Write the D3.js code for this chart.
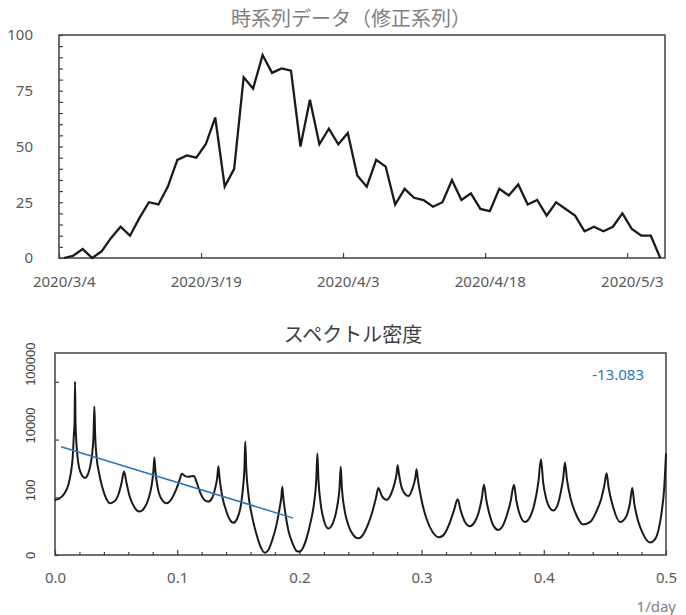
<!DOCTYPE html>
<meta charset="utf-8">
<style>
    body { margin: 0; background: #fff; }
    .axis text { font: 15px "Noto Sans", sans-serif; fill: #595959; }
    .axis line { stroke: #404040; stroke-width: 1.2; }
    .frame { fill: none; stroke: #404040; stroke-width: 1.5; }
    .title { font-family: "Noto Sans CJK JP", sans-serif; font-size: 20px; text-anchor: middle; }
</style>
<svg id="chart" width="686" height="615"></svg>
<script src="https://cdn.jsdelivr.net/npm/d3@7"></script>
<script>

    // time series (corrected), one value per day from 2020/3/4
    var seriesStart = "2020-03-04";
    var seriesValues = [0, 1, 4, 0, 3, 9, 14, 10, 18, 25, 24, 32, 44, 46, 45, 51, 63, 32, 40, 81,
        76, 91, 83, 85, 84, 50, 71, 51, 58, 51, 56, 37, 32, 44, 41, 24, 31, 27, 26, 23,
        25, 35, 26, 29, 22, 21, 31, 28, 33, 24, 26, 19, 25, 22, 19, 12, 14, 12, 14, 20,
        13, 10, 10, 0];
    var dateTicks = ["2020-03-04", "2020-03-19", "2020-04-03", "2020-04-18", "2020-05-03"];
    var valueTicks = [0, 25, 50, 75, 100];

    // spectral density
    var spectrumFreq = [0.000, 0.004, 0.008, 0.011, 0.013, 0.0145, 0.0155, 0.016, 0.0164, 0.0168,
        0.0175, 0.019, 0.021, 0.0245, 0.027, 0.029, 0.0305, 0.0315, 0.0322, 0.0329,
        0.034, 0.036, 0.039, 0.042, 0.045, 0.049, 0.052, 0.0545, 0.0565, 0.0585,
        0.061, 0.065, 0.069, 0.073, 0.0765, 0.079, 0.0805, 0.0813, 0.0822, 0.084,
        0.087, 0.0914, 0.095, 0.099, 0.102, 0.1037, 0.1065, 0.109, 0.1115, 0.1137,
        0.116, 0.119, 0.1225, 0.1255, 0.1285, 0.131, 0.1328, 0.1337, 0.1347, 0.137,
        0.140, 0.143, 0.146, 0.149, 0.152, 0.154, 0.155, 0.1557, 0.1565, 0.158,
        0.161, 0.165, 0.1685, 0.1718, 0.175, 0.178, 0.181, 0.1835, 0.1852, 0.186,
        0.1868, 0.1885, 0.191, 0.1945, 0.1975, 0.200, 0.203, 0.206, 0.209, 0.212,
        0.2138, 0.2147, 0.2156, 0.2175, 0.220, 0.2237, 0.2275, 0.231, 0.2328, 0.2338,
        0.2348, 0.237, 0.240, 0.244, 0.2482, 0.252, 0.256, 0.260, 0.2625, 0.2646,
        0.2675, 0.2714, 0.275, 0.278, 0.2795, 0.2804, 0.2815, 0.284, 0.2891, 0.2925,
        0.2948, 0.2959, 0.297, 0.300, 0.304, 0.309, 0.3145, 0.319, 0.323, 0.3265,
        0.3295, 0.332, 0.3355, 0.3396, 0.343, 0.3465, 0.3492, 0.351, 0.353, 0.356,
        0.359, 0.3628, 0.366, 0.3695, 0.3728, 0.3756, 0.3775, 0.380, 0.3846, 0.389,
        0.3925, 0.3955, 0.3977, 0.3995, 0.402, 0.4055, 0.4078, 0.411, 0.414, 0.416,
        0.4173, 0.419, 0.422, 0.426, 0.4323, 0.438, 0.443, 0.447, 0.4495, 0.4514,
        0.453, 0.4565, 0.4624, 0.467, 0.4705, 0.4724, 0.474, 0.477, 0.481, 0.4869,
        0.491, 0.494, 0.4965, 0.4985, 0.500];
    var spectrumDensity = [81, 93, 140, 280, 710, 2500, 16000, 40000, 1000000, 40000,
        7900, 1600, 710, 470, 630, 1300, 3500, 13000, 140000, 13000,
        2500, 710, 200, 89, 62, 74, 130, 320, 780, 320,
        110, 45, 32, 42, 89, 250, 790, 2400, 790, 220,
        89, 62, 83, 180, 400, 650, 540, 510, 540, 550,
        320, 140, 79, 71, 93, 200, 500, 1200, 450, 100,
        35, 17, 13, 18, 50, 250, 1000, 8500, 1000, 160,
        25, 5, 1.8, 1.2, 1.6, 3.5, 10, 35, 100, 230,
        100, 28, 7, 2.5, 1.4, 1.3, 1.8, 4, 13, 63,
        400, 3300, 400, 56, 16, 8.3, 13, 50, 200, 1150,
        200, 35, 11, 5, 3.8, 5, 11, 35, 89, 210,
        110, 81, 130, 320, 630, 1300, 630, 200, 110, 200,
        450, 930, 400, 79, 18, 6.3, 4.1, 5.6, 13, 35,
        85, 35, 14, 10, 13, 28, 89, 270, 79, 22,
        10, 7.4, 9.5, 22, 71, 270, 79, 28, 14, 22,
        63, 320, 2100, 320, 89, 40, 35, 50, 160, 500,
        1600, 400, 89, 28, 11.5, 14, 32, 89, 250, 680,
        220, 50, 14, 20, 63, 210, 63, 16, 5.6, 2.7,
        3.5, 7.9, 32, 200, 3300];
    var trendFreq = [0.005, 0.195];
    var trendDensity = [5600, 19];
    var trendLabel = "-13.083";
    var densityTicks = [1, 100, 10000, 1000000];
    var densityTickLabels = ["0", "100", "10000", "100000"];
    var freqTicks = [0, 0.1, 0.2, 0.3, 0.4, 0.5];

    var svg = d3.select("#chart");
    var parseDay = d3.timeParse("%Y-%m-%d");
    var fmtDay = d3.timeFormat("%Y/%-m/%-d");

    // ---------- upper panel ----------
    var upper = {left: 59, right: 665, top: 35, bottom: 258};
    var day0 = parseDay(seriesStart);
    var series = seriesValues.map(function (v, i) {
        return {date: d3.timeDay.offset(day0, i), value: v};
    });

    var x1 = d3.scaleTime()
        .domain([day0, d3.timeDay.offset(day0, seriesValues.length)])
        .range([upper.left, upper.right]);
    var y1 = d3.scaleLinear()
        .domain([0, 100])
        .range([upper.bottom, upper.top]);
    var halfDay = (x1(d3.timeDay.offset(day0, 1)) - x1(day0)) / 2;

    svg.append("text")
        .attr("class", "title")
        .attr("x", 351)
        .attr("y", 26)
        .attr("fill", "#7f7f7f")
        .text("時系列データ（修正系列）");

    svg.append("rect")
        .attr("class", "frame")
        .attr("x", upper.left)
        .attr("y", upper.top)
        .attr("width", upper.right - upper.left)
        .attr("height", upper.bottom - upper.top);

    var yAxis1 = svg.append("g")
        .attr("class", "axis")
        .attr("transform", "translate(" + upper.left + ",0)")
        .call(d3.axisLeft(y1)
            .tickValues(d3.range(0, 101, 5))
            .tickSizeInner(-4)
            .tickSizeOuter(0)
            .tickPadding(26)
            .tickFormat(function (d) { return valueTicks.indexOf(d) >= 0 ? d : ""; }));
    yAxis1.select(".domain").remove();
    yAxis1.selectAll("text").attr("text-anchor", "end").attr("x", -26).attr("font-size", "14px");

    var xAxis1 = svg.append("g")
        .attr("class", "axis")
        .attr("transform", "translate(0," + upper.bottom + ")")
        .call(d3.axisBottom(x1)
            .tickValues(dateTicks.map(parseDay))
            .tickSizeInner(-5)
            .tickSizeOuter(0)
            .tickPadding(18)
            .tickFormat(fmtDay));
    xAxis1.select(".domain").remove();
    xAxis1.selectAll("text").attr("x", halfDay);

    var line1 = d3.line()
        .x(function (d) { return x1(d.date) + halfDay; })
        .y(function (d) { return y1(d.value); });

    svg.append("path")
        .datum(series)
        .attr("fill", "none")
        .attr("stroke", "#1a1a1a")
        .attr("stroke-width", 2.3)
        .attr("stroke-linejoin", "miter")
        .attr("d", line1);

    // ---------- lower panel ----------
    var lower = {left: 55, right: 666, top: 353, bottom: 555};

    var x2 = d3.scaleLinear()
        .domain([0, 0.5])
        .range([lower.left, lower.right]);
    var y2 = d3.scaleLog()
        .domain([1, 1e7])
        .range([lower.bottom, lower.top]);

    svg.append("text")
        .attr("class", "title")
        .attr("x", 353)
        .attr("y", 342)
        .attr("fill", "#404040")
        .text("スペクトル密度");

    svg.append("rect")
        .attr("class", "frame")
        .attr("x", lower.left)
        .attr("y", lower.top)
        .attr("width", lower.right - lower.left)
        .attr("height", lower.bottom - lower.top);

    var xAxis2 = svg.append("g")
        .attr("class", "axis")
        .attr("transform", "translate(0," + lower.bottom + ")")
        .call(d3.axisBottom(x2)
            .tickValues(d3.range(0, 26).map(function (i) { return i / 50; }))
            .tickSizeInner(-3)
            .tickSizeOuter(0)
            .tickPadding(17)
            .tickFormat(function (d) {
                return freqTicks.indexOf(Math.round(d * 10) / 10) >= 0 && Math.abs(d * 10 - Math.round(d * 10)) < 1e-6
                    ? d3.format(".1f")(d) : "";
            }));
    xAxis2.select(".domain").remove();
    xAxis2.selectAll(".tick")
        .filter(function (d) { return Math.abs(d * 10 - Math.round(d * 10)) < 1e-6; })
        .select("line").attr("y2", -5);
    xAxis2.selectAll("text").attr("fill", "#7f7f7f");

    var yAxis2 = svg.append("g")
        .attr("class", "axis")
        .attr("transform", "translate(" + lower.left + ",0)")
        .call(d3.axisLeft(y2)
            .tickValues(densityTicks)
            .tickSizeInner(-4)
            .tickSizeOuter(0)
            .tickFormat(""));
    yAxis2.select(".domain").remove();

    svg.append("g")
        .selectAll("text")
        .data(densityTicks)
        .join("text")
        .attr("transform", function (d) { return "translate(35," + (y2(d) + 4) + ") rotate(-90)"; })
        .attr("text-anchor", "start")
        .attr("font-family", "'Liberation Sans', Arial, sans-serif")
        .attr("font-size", "13px")
        .attr("fill", "#404040")
        .text(function (d, i) { return densityTickLabels[i]; });

    svg.append("text")
        .attr("x", 676)
        .attr("y", 612)
        .attr("text-anchor", "end")
        .attr("font-family", "'Noto Sans', sans-serif")
        .attr("font-size", "15px")
        .attr("fill", "#7f7f7f")
        .text("1/day");

    var spectrum = spectrumFreq.map(function (f, i) { return {f: f, d: spectrumDensity[i]}; });

    var line2 = d3.line()
        .curve(d3.curveMonotoneX)
        .x(function (d) { return x2(d.f); })
        .y(function (d) { return y2(d.d); });

    svg.append("path")
        .datum(spectrum)
        .attr("fill", "none")
        .attr("stroke", "#1a1a1a")
        .attr("stroke-width", 2)
        .attr("d", line2);

    var trend = trendFreq.map(function (f, i) { return {f: f, d: trendDensity[i]}; });
    svg.append("path")
        .datum(trend)
        .attr("fill", "none")
        .attr("stroke", "#2e75b6")
        .attr("stroke-width", 1.5)
        .attr("d", d3.line().x(function (d) { return x2(d.f); }).y(function (d) { return y2(d.d); }));

    svg.append("text")
        .attr("x", 644)
        .attr("y", 380)
        .attr("text-anchor", "end")
        .attr("font-family", "'Noto Sans', sans-serif")
        .attr("font-size", "15px")
        .attr("fill", "#2e75b6")
        .text(trendLabel);

</script>
